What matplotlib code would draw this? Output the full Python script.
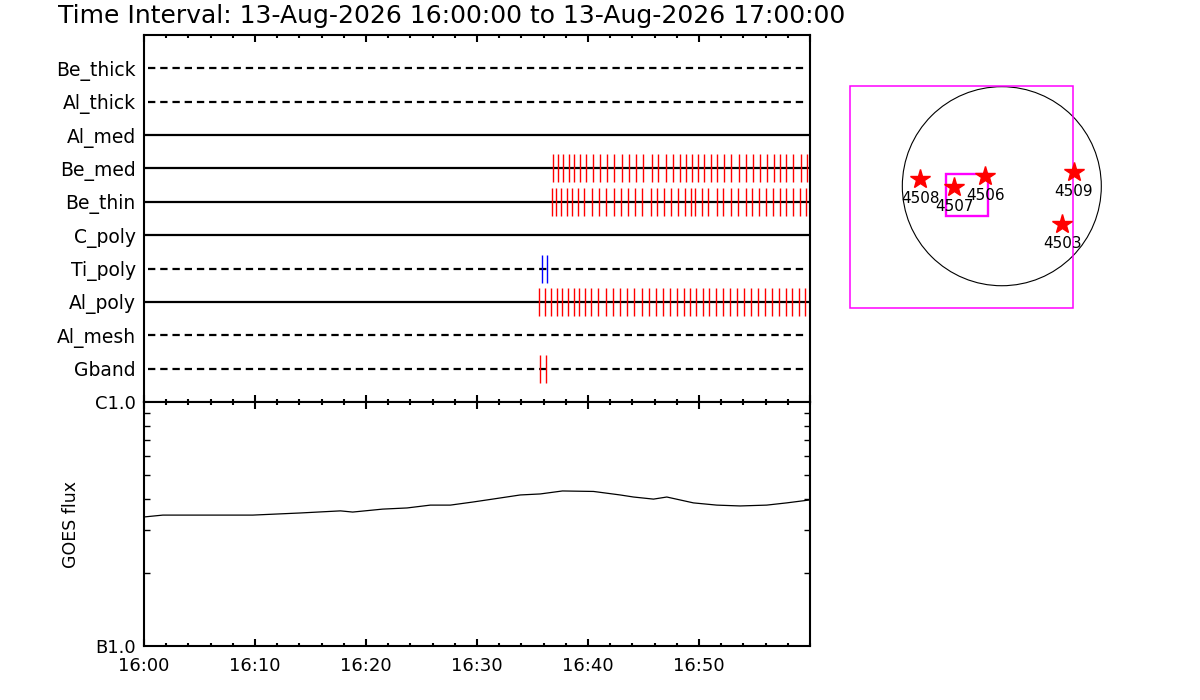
import matplotlib
matplotlib.use('Agg')
import matplotlib.pyplot as plt
from matplotlib.patches import Rectangle, Circle
from matplotlib.ticker import MultipleLocator, FixedLocator, NullFormatter

plt.rcParams['font.family'] = 'DejaVu Sans'

title = 'Time Interval: 13-Aug-2026 16:00:00 to 13-Aug-2026 17:00:00'

# filter channels, top to bottom
channels = ['Be_thick', 'Al_thick', 'Al_med', 'Be_med', 'Be_thin',
            'C_poly', 'Ti_poly', 'Al_poly', 'Al_mesh', 'Gband']
dashed = ['Be_thick', 'Al_thick', 'Ti_poly', 'Al_mesh', 'Gband']

# image times (minutes after 16:00)
be_med_t = [36.87, 37.33, 37.78, 38.32, 38.77, 39.31, 39.85, 40.48, 41.11, 41.74,
            42.37, 43.09, 43.72, 44.35, 44.98, 45.74, 46.33, 47.00, 47.63, 48.26,
            48.86, 49.40, 49.88, 50.48, 51.05, 51.65, 52.28, 52.91, 53.58, 54.23,
            54.87, 55.52, 56.13, 56.76, 57.27, 57.87, 58.50, 59.16, 59.76]
be_thin_t = [36.78, 37.14, 37.60, 38.14, 38.59, 39.13, 39.67, 40.39, 41.02, 41.65,
             42.37, 43.00, 43.63, 44.26, 44.89, 45.68, 46.24, 46.87, 47.51, 48.14,
             48.77, 49.31, 49.67, 50.24, 50.84, 51.60, 52.19, 52.88, 53.54, 54.21,
             54.80, 55.43, 56.06, 56.69, 57.27, 57.87, 58.44, 59.07, 59.67]
al_poly_t = [35.61, 36.15, 36.69, 37.23, 37.69, 38.23, 38.71, 39.22, 39.76, 40.30,
             40.93, 41.65, 42.28, 42.91, 43.54, 44.17, 44.89, 45.52, 46.15, 46.78,
             47.41, 48.05, 48.62, 49.22, 49.76, 50.39, 50.93, 51.51, 52.14, 52.82,
             53.45, 54.08, 54.71, 55.34, 55.97, 56.60, 57.23, 57.87, 58.41, 59.04,
             59.58]
ti_poly_t = [35.83, 36.33]
gband_t = [35.70, 36.22]

# GOES flux
goes_t = [0, 1.7, 9.8, 14.1, 17.7, 18.8, 21.5, 23.7, 25.8, 27.6, 29.6, 31.4, 33.9,
          35.7, 37.7, 40.5, 42.9, 44.1, 45.9, 47.1, 49.5, 51.6, 53.7, 56.1, 57.9, 60.0]
goes_flux = [3.38e-6, 3.44e-6, 3.44e-6, 3.51e-6, 3.58e-6, 3.54e-6, 3.64e-6, 3.68e-6,
             3.78e-6, 3.78e-6, 3.89e-6, 4.00e-6, 4.16e-6, 4.20e-6, 4.32e-6, 4.30e-6,
             4.16e-6, 4.08e-6, 4.00e-6, 4.08e-6, 3.86e-6, 3.78e-6, 3.75e-6, 3.78e-6,
             3.86e-6, 3.97e-6]
time_labels = ['16:00', '16:10', '16:20', '16:30', '16:40', '16:50']

# active regions (arcsec)
ar_num = ['4508', '4507', '4506', '4509', '4503']
ar_x = [-781, -456, -158, 689, 578]
ar_y = [69, -11, 100, 133, -361]
fov = [-1447, -1166, 2124, 2120]     # x0, y0, w, h
sub_fov = [-536, -282, 401, 401]
r_sun = 950

fig = plt.figure(figsize=(12, 7), dpi=100)
ax1 = fig.add_axes([0.12, 0.4257, 0.555, 0.5243])
ax2 = fig.add_axes([0.12, 0.0771, 0.555, 0.3486])

fig.text(0.048, 1 - 16/700, title, fontsize=18, va='center', ha='left')

# --- channel panel
n = len(channels)
rows = {c: n - i for i, c in enumerate(channels)}
for c in channels:
    y = rows[c]
    if c in dashed:
        ax1.plot([0.4, 59.8], [y, y], color='black', lw=1.6, ls=(0, (3.3, 2.2)))
    else:
        ax1.plot([0, 60], [y, y], color='black', lw=1.6)

h = 0.42
ax1.vlines(be_med_t, rows['Be_med'] - h, rows['Be_med'] + h, color='red', lw=1)
ax1.vlines(be_thin_t, rows['Be_thin'] - h, rows['Be_thin'] + h, color='red', lw=1)
ax1.vlines(al_poly_t, rows['Al_poly'] - h, rows['Al_poly'] + h, color='red', lw=1)
ax1.vlines(ti_poly_t, rows['Ti_poly'] - h, rows['Ti_poly'] + h, color='blue', lw=1)
ax1.vlines(gband_t, rows['Gband'] - h, rows['Gband'] + h, color='red', lw=1)

ax1.set_xlim(0, 60)
ax1.set_ylim(0, n + 1)
ax1.set_yticks([rows[c] for c in channels])
ax1.set_yticklabels(channels, fontsize=13.5)
ax1.tick_params(axis='y', length=0, pad=6)
ax1.xaxis.set_major_locator(MultipleLocator(10))
ax1.xaxis.set_minor_locator(MultipleLocator(2))
ax1.tick_params(axis='x', which='both', direction='in', top=True, bottom=True,
                labelbottom=False, width=1.5)
ax1.tick_params(axis='x', which='major', length=5)
ax1.tick_params(axis='x', which='minor', length=2.5)

# --- GOES panel
ax2.plot(goes_t, goes_flux, color='black', lw=0.9)
ax2.set_yscale('log')
ax2.set_xlim(0, 60)
ax2.set_ylim(1e-6, 1e-5)
ax2.yaxis.set_major_locator(FixedLocator([1e-6, 1e-5]))
ax2.set_yticklabels(['B1.0', 'C1.0'], fontsize=13)
ax2.yaxis.set_minor_locator(FixedLocator([k * 1e-6 for k in range(2, 10)]))
ax2.yaxis.set_minor_formatter(NullFormatter())
ax2.tick_params(axis='y', which='both', direction='in', left=True, right=True, pad=6)
ax2.tick_params(axis='y', which='major', length=0)
ax2.tick_params(axis='y', which='minor', length=4.5, width=1)
ax2.set_ylabel('GOES flux', fontsize=12.5, labelpad=11)

ax2.set_xticks([0, 10, 20, 30, 40, 50])
ax2.set_xticklabels(time_labels, fontsize=13)
ax2.xaxis.set_minor_locator(MultipleLocator(2))
ax2.tick_params(axis='x', which='both', direction='in', top=True, bottom=True,
                width=1.5, pad=8)
ax2.tick_params(axis='x', which='major', length=5)
ax2.tick_params(axis='x', which='minor', length=2.5)

for ax in (ax1, ax2):
    for s in ax.spines.values():
        s.set_linewidth(1.5)

# --- solar disk map
ax3 = fig.add_axes([840/1200, 1 - 318/700, 270/1200, 242/700])
ax3.set_xlim(-1545, 1033)
ax3.set_ylim(-1258, 1052)
ax3.axis('off')
ax3.add_patch(Circle((0, 0), r_sun, fill=False, ec='black', lw=0.8, clip_on=False))
ax3.add_patch(Rectangle((fov[0], fov[1]), fov[2], fov[3], fill=False,
                        ec='magenta', lw=1.1, clip_on=False))
ax3.add_patch(Rectangle((sub_fov[0], sub_fov[1]), sub_fov[2], sub_fov[3], fill=False,
                        ec='magenta', lw=1.7, clip_on=False))
ax3.plot(ar_x, ar_y, ls='none', marker='*', ms=15, color='red', mec='red',
         clip_on=False)
for num, x, y in zip(ar_num, ar_x, ar_y):
    ax3.annotate(num, (x, y), xytext=(0, -14), textcoords='offset points',
                 ha='center', va='center', fontsize=11)

fig.savefig('out.png', dpi=100)
